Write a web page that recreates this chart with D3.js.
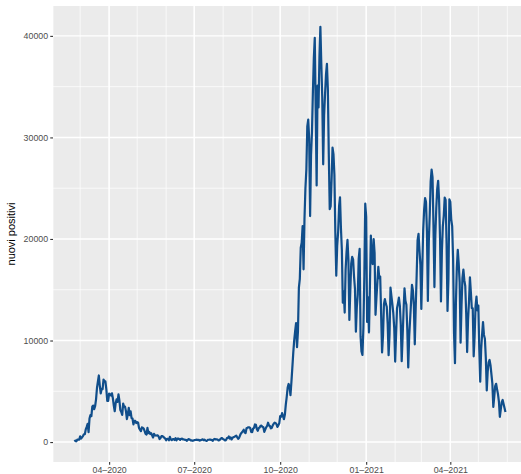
<!DOCTYPE html>
<html><head><meta charset="utf-8">
<script src="https://cdn.jsdelivr.net/npm/d3@7"></script>
<style>body{margin:0;background:#fff}svg{display:block}</style>
</head><body>
<svg id="c" width="521" height="474"></svg>
<script>
// ---- data (daily "nuovi positivi", Italy) ----
const startDate = "2020-02-24";
const feb2020 = [221, 93, 78, 250, 238, 240];
const mar2020 = [566, 342, 466, 587, 769, 778, 1247, 1492, 1797, 977, 2313, 2651, 2547, 3497, 3590, 3233, 3526, 4207, 5322, 5986, 6557, 5560, 4789, 5249, 5210, 6153, 5959, 5974, 5217, 4050, 4053];
const apr2020 = [4782, 4668, 4585, 4805, 4316, 3599, 3039, 3836, 4204, 3951, 4694, 4092, 3153, 2972, 2667, 3786, 3493, 3491, 3047, 2256, 2729, 3370, 2646, 3021, 2357, 2324, 1739, 2091, 2086, 1872];
const may2020 = [1965, 1900, 1389, 1221, 1075, 1444, 1401, 1327, 1083, 802, 744, 1402, 888, 992, 789, 875, 675, 451, 813, 665, 642, 652, 669, 531, 300, 397, 584, 593, 516, 416, 355];
const jun2020 = [178, 318, 321, 177, 518, 270, 197, 280, 283, 202, 379, 163, 346, 338, 301, 210, 329, 333, 251, 262, 224, 218, 122, 190, 296, 259, 175, 174, 126, 142];
const jul2020 = [187, 201, 223, 235, 192, 208, 138, 193, 229, 276, 188, 234, 169, 114, 162, 230, 233, 249, 219, 190, 129, 282, 306, 252, 275, 255, 170, 181, 289, 386, 379];
const aug2020 = [295, 239, 159, 190, 384, 402, 552, 347, 463, 259, 412, 481, 523, 574, 629, 479, 320, 403, 642, 845, 947, 1071, 1210, 953, 878, 1367, 1411, 1460, 1444, 1365, 996];
const sep2020 = [978, 1326, 1397, 1733, 1695, 1297, 1108, 1370, 1434, 1597, 1616, 1501, 1458, 1008, 1229, 1452, 1585, 1907, 1638, 1587, 1350, 1392, 1640, 1786, 1912, 1869, 1766, 1494, 1648, 1851];
const oct2020 = [2548, 2499, 2844, 2578, 2257, 2677, 3678, 4458, 5372, 5724, 5456, 4619, 5901, 7332, 8804, 10010, 10925, 11705, 9338, 10874, 15199, 16079, 19143, 19644, 21273, 17012, 21994, 24991, 26831, 31084, 31758];
const nov2020 = [29907, 22253, 28244, 30550, 34505, 37809, 39811, 32616, 25271, 35098, 32961, 37978, 40902, 37255, 33979, 27354, 32191, 34283, 36176, 37242, 34767, 28337, 22930, 23232, 25853, 29003, 28352, 26323, 20648, 16377];
const dec2020 = [19350, 20709, 23225, 24099, 21052, 18887, 13720, 14842, 12756, 16999, 18727, 19903, 17938, 12030, 14844, 17572, 18236, 17992, 16308, 15104, 10872, 13318, 14522, 18040, 19037, 10407, 8913, 8585, 11224, 16202, 23477];
const jan2021 = [22211, 11831, 14245, 10800, 15378, 20331, 18020, 17533, 19978, 18627, 12532, 14242, 15774, 17246, 16146, 16310, 12545, 8824, 10497, 13571, 14078, 13633, 13331, 11629, 8561, 10593, 15204, 14372, 13574, 12715, 11252];
const feb2021 = [7925, 10630, 13189, 13659, 14218, 13442, 11641, 7970, 10404, 12956, 15146, 13908, 13532, 11068, 7351, 10386, 12074, 13762, 15479, 14931, 13452, 9630, 13314, 16424, 19886, 20499, 18916, 17455];
const mar2021 = [13114, 17083, 20884, 22865, 24036, 23641, 20765, 13902, 19749, 22409, 25673, 26824, 26062, 21315, 15267, 20396, 23059, 24935, 25735, 23832, 20159, 13846, 18765, 21267, 22273, 24076, 23839, 19611, 12916, 16017, 23904];
const apr2021 = [23649, 21932, 21261, 18025, 10680, 7767, 13708, 17221, 18938, 17567, 15746, 9789, 13447, 16168, 16974, 15943, 15370, 12694, 8864, 12074, 13844, 16232, 14761, 13176, 13158, 8444, 10404, 13385, 14320, 12965];
const may2021 = [13446, 9148, 5948, 9116, 10585, 11807, 10554, 10176, 8292, 5080, 6946, 7852, 8085, 7567, 6659, 5753, 3455, 4452, 5506, 5741, 5218, 4717, 3995, 2490, 3224, 3937, 4147, 3738, 3351, 2949];

const yTicks = [0, 10000, 20000, 30000, 40000];
const yMinorTicks = [5000, 15000, 25000, 35000];
const xTickDates = ["2020-04-01", "2020-07-01", "2020-10-01", "2021-01-01", "2021-04-01"];
const xTickLabels = ["04\u20132020", "07\u20132020", "10\u20132020", "01\u20132021", "04\u20132021"];
const yTitle = "nuovi positivi";

// ---- build ----
const parse = d3.utcParse("%Y-%m-%d");
const t0 = parse(startDate);
const values = [].concat(feb2020, mar2020, apr2020, may2020, jun2020, jul2020, aug2020, sep2020, oct2020, nov2020, dec2020, jan2021, feb2021, mar2021, apr2021, may2021);
const data = values.map((v, i) => ({ date: d3.utcDay.offset(t0, i), value: v }));

const panel = { left: 53, right: 527, top: 6, bottom: 462 };
const tExt = d3.extent(data, d => d.date);
const tSpan = tExt[1] - tExt[0];
const x = d3.scaleUtc()
  .domain([new Date(+tExt[0] - 0.05 * tSpan), new Date(+tExt[1] + 0.05 * tSpan)])
  .range([panel.left, panel.right]);
const vExt = d3.extent(values);
const vSpan = vExt[1] - vExt[0];
const y = d3.scaleLinear()
  .domain([vExt[0] - 0.05 * vSpan, vExt[1] + 0.05 * vSpan])
  .range([panel.bottom, panel.top]);

const svg = d3.select("#c");
svg.append("rect").attr("width", 521).attr("height", 474).attr("fill", "#fff");
svg.append("rect")
  .attr("x", panel.left).attr("y", panel.top)
  .attr("width", panel.right - panel.left).attr("height", panel.bottom - panel.top)
  .attr("fill", "#EBEBEB");

const grid = svg.append("g");
const monthLines = d3.utcMonth.range(x.domain()[0], x.domain()[1]);
grid.selectAll(".vmin").data(monthLines).join("line")
  .attr("x1", d => x(d)).attr("x2", d => x(d))
  .attr("y1", panel.top).attr("y2", panel.bottom)
  .attr("stroke", "#fff").attr("stroke-width", 0.7);
grid.selectAll(".hmin").data(yMinorTicks).join("line")
  .attr("x1", panel.left).attr("x2", panel.right)
  .attr("y1", d => y(d)).attr("y2", d => y(d))
  .attr("stroke", "#fff").attr("stroke-width", 0.7);
const xMajor = xTickDates.map(parse);
grid.selectAll(".vmaj").data(xMajor).join("line")
  .attr("x1", d => x(d)).attr("x2", d => x(d))
  .attr("y1", panel.top).attr("y2", panel.bottom)
  .attr("stroke", "#fff").attr("stroke-width", 1.4);
grid.selectAll(".hmaj").data(yTicks).join("line")
  .attr("x1", panel.left).attr("x2", panel.right)
  .attr("y1", d => y(d)).attr("y2", d => y(d))
  .attr("stroke", "#fff").attr("stroke-width", 1.4);

// line
const line = d3.line().x(d => x(d.date)).y(d => y(d.value));
svg.append("path").datum(data)
  .attr("d", line)
  .attr("fill", "none")
  .attr("stroke", "#104E8B")
  .attr("stroke-width", 2.2)
  .attr("stroke-linejoin", "round")
  .attr("stroke-linecap", "butt");

// axes
const font = "'Liberation Sans', Arial, Helvetica, sans-serif";
const yAxis = d3.axisLeft(y).tickValues(yTicks).tickSize(2.75).tickPadding(2.2).tickFormat(d3.format("d"));
const gy = svg.append("g").attr("transform", `translate(${panel.left},0)`).call(yAxis);
const xAxis = d3.axisBottom(x).tickValues(xMajor).tickSize(2.75).tickPadding(2.2)
  .tickFormat((d, i) => xTickLabels[i]);
const gx = svg.append("g").attr("transform", `translate(0,${panel.bottom})`).call(xAxis);
[gx, gy].forEach(g => {
  g.select(".domain").remove();
  g.selectAll(".tick line").attr("stroke", "#333333").attr("stroke-width", 1.1);
  g.selectAll(".tick text").attr("fill", "#4D4D4D").style("font-family", font).style("font-size", "8.8px");
});

svg.append("text")
  .attr("transform", `translate(14.5,${(panel.top + panel.bottom) / 2}) rotate(-90)`)
  .attr("text-anchor", "middle")
  .style("font-family", font).style("font-size", "11px")
  .attr("fill", "#000")
  .text(yTitle);
</script>
</body></html>
